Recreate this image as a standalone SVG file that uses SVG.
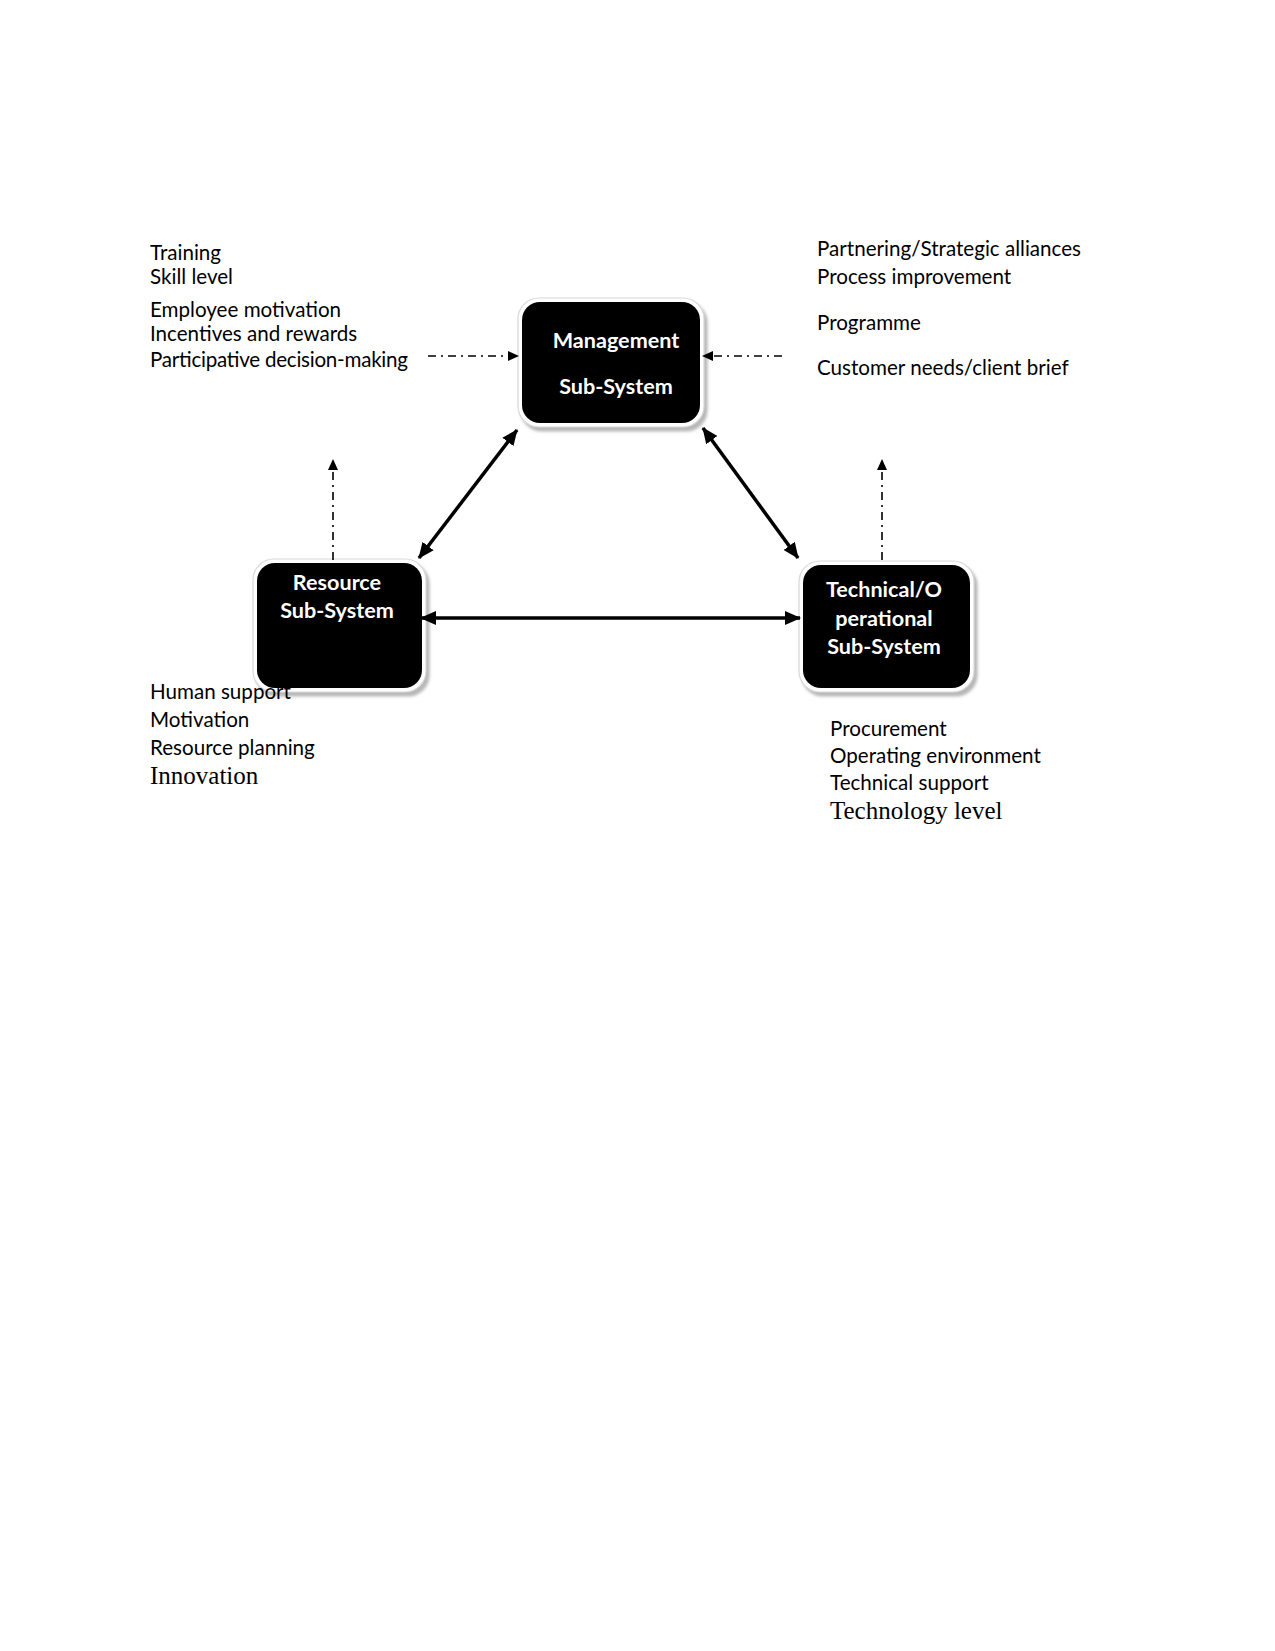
<svg xmlns="http://www.w3.org/2000/svg" width="1275" height="1651" viewBox="0 0 1275 1651">
<style>
.t{font-family:Lato,"Open Sans","Liberation Sans",sans-serif;font-size:20.6px;fill:#000}
.s{font-family:"Liberation Serif","Times New Roman",serif;font-size:25px;fill:#000}
.n{font-family:Lato,"Open Sans","Liberation Sans",sans-serif;font-size:21.6px;font-weight:bold;fill:#fff;text-anchor:middle}
.box{fill:#000}
.ring{fill:#fff;stroke:#d8d8d8;stroke-width:1.2}
.solid{stroke:#000;stroke-width:3.5;fill:none}
.dash{stroke:#000;stroke-width:1.6;fill:none;stroke-dasharray:8 5 2 5}
</style>
<defs>
<filter id="sh" x="-20%" y="-20%" width="140%" height="140%">
<feDropShadow dx="3" dy="4" stdDeviation="1.8" flood-color="#999" flood-opacity="0.7"/>
</filter>
<marker id="ah" markerUnits="userSpaceOnUse" markerWidth="16" markerHeight="14" refX="15" refY="7" orient="auto-start-reverse">
<path d="M0,0 L16,7 L0,14 z" fill="#000"/>
</marker>
<marker id="sm" markerUnits="userSpaceOnUse" markerWidth="11" markerHeight="10" refX="10" refY="5" orient="auto">
<path d="M0,0 L11,5 L0,10 z" fill="#000"/>
</marker>
</defs>
<rect width="1275" height="1651" fill="#fff"/>

<g id="management">
<rect class="ring" x="518" y="298" width="186" height="129" rx="21" filter="url(#sh)"/>
<rect class="box" x="522" y="302" width="178" height="121" rx="18"/>
<text class="n" x="616" y="348">Management</text>
<text class="n" x="616" y="394">Sub-System</text>
</g>

<g id="resource">
<rect class="ring" x="253" y="559" width="173" height="133" rx="21" filter="url(#sh)"/>
<rect class="box" x="257" y="563" width="165" height="125" rx="18"/>
<text class="n" x="337" y="590">Resource</text>
<text class="n" x="337" y="618">Sub-System</text>
</g>

<g id="technical">
<rect class="ring" x="799" y="561" width="175" height="131" rx="21" filter="url(#sh)"/>
<rect class="box" x="803" y="565" width="167" height="123" rx="18"/>
<text class="n" x="884" y="597">Technical/O</text>
<text class="n" x="884" y="626">perational</text>
<text class="n" x="884" y="654">Sub-System</text>
</g>

<g id="connectors">
<line class="solid" x1="517" y1="430" x2="419" y2="558" marker-start="url(#ah)" marker-end="url(#ah)"/>
<line class="solid" x1="703" y1="428" x2="798" y2="558" marker-start="url(#ah)" marker-end="url(#ah)"/>
<line class="solid" x1="421" y1="618" x2="800" y2="618" marker-start="url(#ah)" marker-end="url(#ah)"/>
<line class="dash" x1="428" y1="356" x2="518" y2="356" marker-end="url(#sm)"/>
<line class="dash" x1="782" y1="356" x2="703" y2="356" marker-end="url(#sm)"/>
<line class="dash" x1="333" y1="560" x2="333" y2="460" marker-end="url(#sm)"/>
<line class="dash" x1="882" y1="560" x2="882" y2="460" marker-end="url(#sm)"/>
</g>

<g id="left-top">
<text class="t" x="150" y="260">Training</text>
<text class="t" x="150" y="284">Skill level</text>
<text class="t" x="150" y="317">Employee motivation</text>
<text class="t" x="150" y="341">Incentives and rewards</text>
<text class="t" x="150" y="367" textLength="258">Participative decision-making</text>
</g>

<g id="right-top">
<text class="t" x="817" y="256">Partnering/Strategic alliances</text>
<text class="t" x="817" y="284">Process improvement</text>
<text class="t" x="817" y="330">Programme</text>
<text class="t" x="817" y="375">Customer needs/client brief</text>
</g>

<g id="left-bottom">
<text class="t" x="150" y="699">Human support</text>
<text class="t" x="150" y="727">Motivation</text>
<text class="t" x="150" y="755">Resource planning</text>
<text class="s" x="150" y="784">Innovation</text>
</g>

<g id="right-bottom">
<text class="t" x="830" y="736">Procurement</text>
<text class="t" x="830" y="763">Operating environment</text>
<text class="t" x="830" y="790">Technical support</text>
<text class="s" x="830" y="819">Technology level</text>
</g>
</svg>
